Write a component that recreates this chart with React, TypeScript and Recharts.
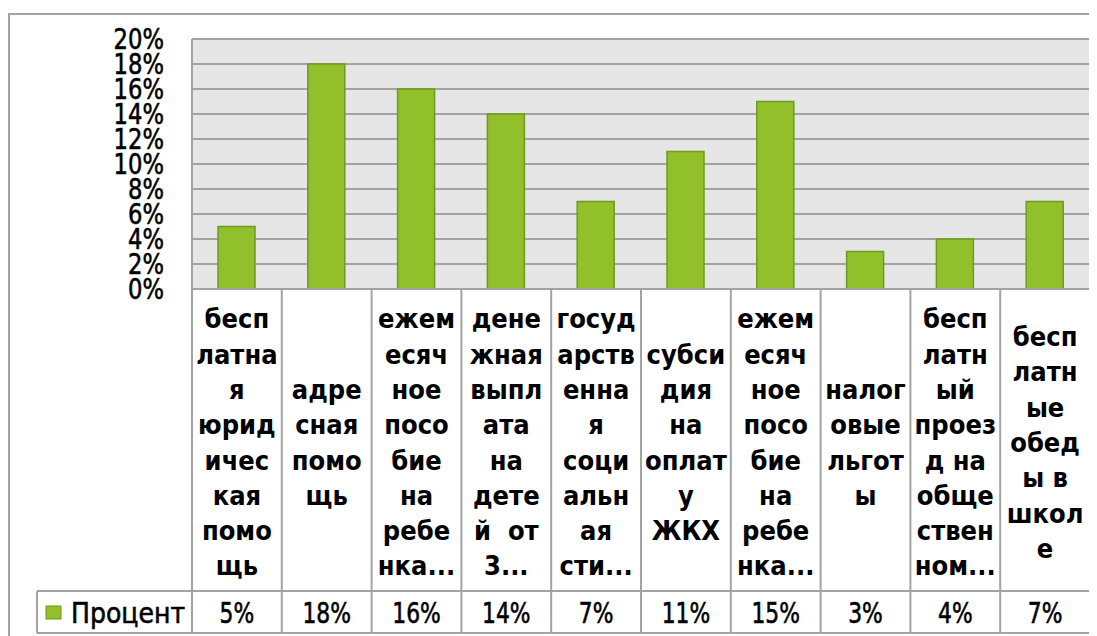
import { Bar, BarChart, CartesianGrid, XAxis, YAxis } from "recharts";

// подписи категорий так, как их переносит Excel в таблице данных
const categoryLines: string[][] = [
	["бесп", "латна", "я", "юрид", "ичес", "кая", "помо", "щь"],
	["адре", "сная", "помо", "щь"],
	["ежем", "есяч", "ное", "посо", "бие", "на", "ребе", "нка..."],
	["дене", "жная", "выпл", "ата", "на", "дете", "й\u00a0 от", "3..."],
	["госуд", "арств", "енна", "я", "соци", "альн", "ая", "сти..."],
	["субси", "дия", "на", "оплат", "у", "ЖКХ"],
	["ежем", "есяч", "ное", "посо", "бие", "на", "ребе", "нка..."],
	["налог", "овые", "льгот", "ы"],
	["бесп", "латн", "ый", "проез", "д на", "обще", "ствен", "ном..."],
	["бесп", "латн", "ые", "обед", "ы в", "школ", "е"],
];
const percents = [5, 18, 16, 14, 7, 11, 15, 3, 4, 7];
const yTicks = [0, 2, 4, 6, 8, 10, 12, 14, 16, 18, 20];
const seriesName = "Процент";

const data = categoryLines.map((lines, i) => ({
	name: lines.join(""),
	value: percents[i],
}));

const GREEN = "#92c02a";
const GREEN_EDGE = "#6e9a1e";
const LINE = "#a3a3a3";
const FONT = "'DejaVu Sans', sans-serif";

const CHART_W = 1089;
const CHART_H = 628;
const Y_AXIS_W = 184;
const RIGHT = 7;
const BAND = (CHART_W - Y_AXIS_W - RIGHT) / categoryLines.length;
const CAT_ROW_H = 302;
const VAL_ROW_H = 42;
const LEGEND_W = 155;

// обычное начертание, чуть утолщённое обводкой
const medium = { stroke: "#000", strokeWidth: 0.6, fill: "#000" };

function YTick({ x, y, payload }: any) {
	return (
		<text
			transform={`translate(${x},${y}) scale(0.81,1)`}
			textAnchor="end"
			dy={10}
			fontSize={28}
			fontFamily={FONT}
			{...medium}
		>
			{payload.value}%
		</text>
	);
}

function TableTick({ x, y, payload }: any) {
	const i = payload.index;
	const lines = categoryLines[i];
	const left = x - BAND / 2;
	const right = x + BAND / 2;
	const mid = 155.5;
	const bottom = CAT_ROW_H + VAL_ROW_H;
	return (
		<g transform={`translate(0,${y})`}>
			<line x1={left} x2={left} y1={0} y2={bottom} stroke={LINE} strokeWidth={2} />
			{i === categoryLines.length - 1 && (
				<line x1={right} x2={right} y1={0} y2={bottom} stroke={LINE} strokeWidth={2} />
			)}
			<line x1={left} x2={right} y1={CAT_ROW_H} y2={CAT_ROW_H} stroke={LINE} strokeWidth={2} />
			<line x1={left} x2={right} y1={bottom} y2={bottom} stroke={LINE} strokeWidth={2} />
			{lines.map((t, k) => (
				<text
					key={k}
					transform={`translate(${x},${mid + (k - (lines.length - 1) / 2) * 35.3 + 7.4}) scale(0.9,1)`}
					textAnchor="middle"
					fontSize={27}
					fontWeight="bold"
					fontFamily={FONT}
					fill="#000"
				>
					{t}
				</text>
			))}
			<text
				transform={`translate(${x},${CAT_ROW_H + 32}) scale(0.78,1)`}
				textAnchor="middle"
				fontSize={28}
				fontFamily={FONT}
				{...medium}
			>
				{percents[i]}%
			</text>
			{i === 0 && (
				<g>
					<line x1={left - LEGEND_W} x2={left} y1={CAT_ROW_H} y2={CAT_ROW_H} stroke={LINE} strokeWidth={2} />
					<line x1={left - LEGEND_W} x2={left} y1={bottom} y2={bottom} stroke={LINE} strokeWidth={2} />
					<line x1={left - LEGEND_W} x2={left - LEGEND_W} y1={CAT_ROW_H} y2={bottom} stroke={LINE} strokeWidth={2} />
					<rect
						x={left - LEGEND_W + 9}
						y={CAT_ROW_H + 15}
						width={15}
						height={13}
						fill={GREEN}
						stroke={GREEN_EDGE}
						strokeWidth={1}
					/>
					<text
						transform={`translate(${left - LEGEND_W + 34},${CAT_ROW_H + 32}) scale(0.9,1)`}
						fontSize={28}
						fontFamily={FONT}
						{...medium}
					>
						{seriesName}
					</text>
				</g>
			)}
		</g>
	);
}

export default function App() {
	return (
		<div style={{ position: "relative", width: CHART_W, height: CHART_H }}>
			<style>{`html,body{overflow:hidden}`}</style>
			<div
				style={{
					position: "absolute",
					left: 0,
					top: 5,
					width: CHART_W,
					height: CHART_H,
					borderTop: `2px solid ${LINE}`,
					borderLeft: `2px solid ${LINE}`,
					boxSizing: "border-box",
				}}
			/>
			<BarChart
				width={CHART_W}
				height={CHART_H}
				data={data}
				margin={{ top: 31, right: RIGHT, left: 0, bottom: 0 }}
				style={{ position: "absolute", left: 0, top: 0 }}
			>
				<CartesianGrid vertical={false} fill="#e6e6e6" stroke={LINE} strokeWidth={2} />
				<YAxis
					domain={[0, 20]}
					ticks={yTicks}
					interval={0}
					width={Y_AXIS_W}
					axisLine={{ stroke: LINE, strokeWidth: 2 }}
					tickLine={false}
					tickMargin={22}
					tick={<YTick />}
				/>
				<XAxis
					dataKey="name"
					interval={0}
					height={CHART_H - 281}
					axisLine={{ stroke: LINE, strokeWidth: 2 }}
					tickLine={false}
					tickSize={0}
					tickMargin={0}
					tick={<TableTick />}
				/>
				<Bar
					dataKey="value"
					name={seriesName}
					fill={GREEN}
					stroke={GREEN_EDGE}
					strokeWidth={1.5}
					barSize={37}
					isAnimationActive={false}
				/>
			</BarChart>
		</div>
	);
}
